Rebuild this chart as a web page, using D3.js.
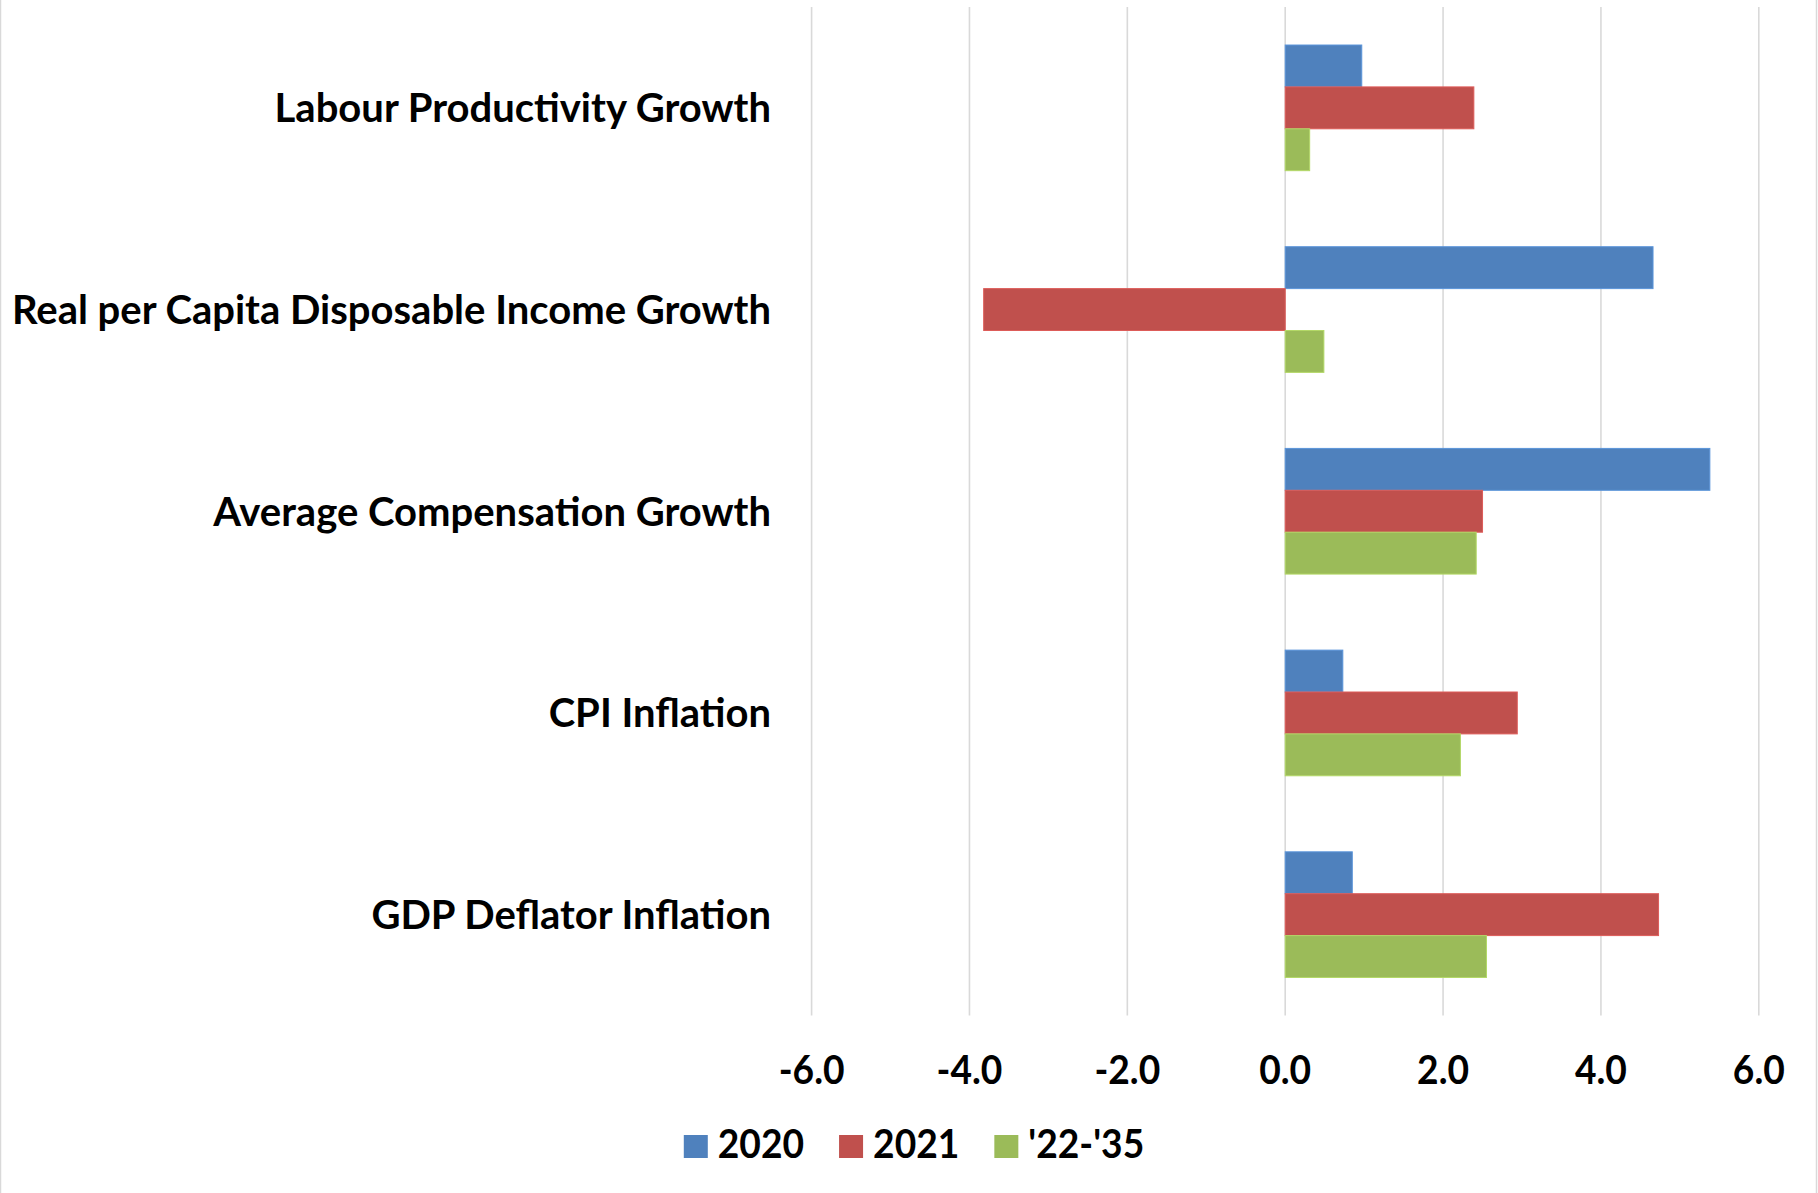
<!DOCTYPE html>
<html>
<head>
<meta charset="utf-8">
<script src="https://cdn.jsdelivr.net/npm/d3@7"></script>
<style>
  html, body { margin: 0; padding: 0; background: #fff; }
  svg { display: block; }
  text { font-family: Lato, "Open Sans", sans-serif; font-weight: 700; fill: #000; }
</style>
</head>
<body>
<svg id="chart"></svg>
<script>
const categories = [
  "Labour Productivity Growth",
  "Real per Capita Disposable Income Growth",
  "Average Compensation Growth",
  "CPI Inflation",
  "GDP Deflator Inflation"
]
const seriesNames = ["2020", "2021", "'22-'35"]
const values2020 = [0.97, 4.66, 5.38, 0.73, 0.85]
const values2021 = [2.39, -3.82, 2.50, 2.94, 4.73]
const values2235 = [0.31, 0.49, 2.42, 2.22, 2.55]
const tickValues = [-6, -4, -2, 0, 2, 4, 6]
const colors = ["#4f81bd", "#c0504d", "#9bbb59"]

const width = 1818
const height = 1193
const fontSize = 40
const squeeze = 0.93

const svg = d3.select("#chart").attr("width", width).attr("height", height)

const x = d3.scaleLinear().domain([-6, 6]).range([811.6, 1758.8])
const y = d3.scaleBand().domain(categories).range([7, 1015.5])
  .paddingInner(0.377).paddingOuter(0.1885)
const ySub = d3.scaleBand().domain(seriesNames).range([0, y.bandwidth()])

const allValues = [values2020, values2021, values2235]
const fmt = d => d3.format(".1f")(d).replace("\u2212", "-")

// outer border (left/right edges visible)
svg.append("line").attr("x1", 0.5).attr("x2", 0.5).attr("y1", 0).attr("y2", height)
  .attr("stroke", "#d9d9d9").attr("stroke-width", 1.5)
svg.append("line").attr("x1", width - 1.5).attr("x2", width - 1.5).attr("y1", 0).attr("y2", height)
  .attr("stroke", "#d9d9d9").attr("stroke-width", 1.5)

// gridlines
svg.append("g").selectAll("line").data(tickValues).join("line")
  .attr("x1", d => x(d)).attr("x2", d => x(d))
  .attr("y1", 7).attr("y2", 1015.5)
  .attr("stroke", "#d9d9d9").attr("stroke-width", 1.6)

// bars
const groups = svg.append("g").selectAll("g").data(categories).join("g")
  .attr("transform", d => `translate(0,${y(d)})`)

groups.selectAll("rect")
  .data((c, i) => seriesNames.map((s, j) => ({ s, v: allValues[j][i], color: colors[j] })))
  .join("rect")
  .attr("x", d => x(Math.min(0, d.v)))
  .attr("width", d => Math.abs(x(d.v) - x(0)))
  .attr("y", d => ySub(d.s))
  .attr("height", ySub.bandwidth())
  .attr("fill", d => d.color)
  .attr("stroke", d => d3.color(d.color).brighter(0.4))
  .attr("stroke-width", 1)

// category labels
svg.append("g").selectAll("text").data(categories).join("text")
  .attr("transform", d => `translate(771,${y(d) + y.bandwidth() / 2})`)
  .attr("text-anchor", "end")
  .attr("dy", "0.36em")
  .style("font-size", fontSize + "px")
  .text(d => d)

// x tick labels
svg.append("g").selectAll("text").data(tickValues).join("text")
  .attr("transform", d => `translate(${x(d)},1084) scale(${squeeze},1)`)
  .attr("text-anchor", "middle")
  .style("font-size", fontSize + "px")
  .text(fmt)

// legend
const legend = svg.append("g")
const items = legend.selectAll("g").data(seriesNames).join("g")
items.append("rect")
  .attr("width", 24).attr("height", 23)
  .attr("y", 1135)
  .attr("fill", (d, i) => colors[i])
items.append("text")
  .attr("transform", `translate(34,1158) scale(${squeeze},1)`)
  .style("font-size", fontSize + "px")
  .text(d => d)

let offset = 0
const positions = []
items.each(function () {
  const tw = d3.select(this).select("text").node().getComputedTextLength() * squeeze
  positions.push(offset)
  offset += 34 + tw + 35
})
offset -= 35
const legendStart = 914 - offset / 2
items.attr("transform", (d, i) => `translate(${legendStart + positions[i]},0)`)
</script>
</body>
</html>
